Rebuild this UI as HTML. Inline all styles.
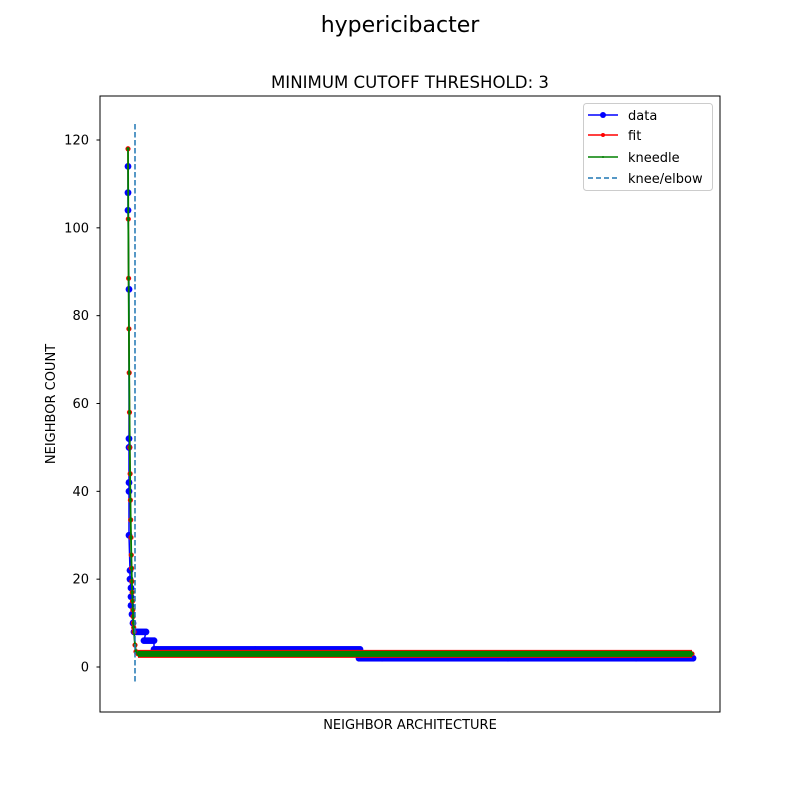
<!DOCTYPE html>
<html><head><meta charset="utf-8"><style>
body{margin:0;background:#fff;font-family:"DejaVu Sans","Liberation Sans",sans-serif}
</style></head><body>
<svg id="chart" width="800" height="800" xmlns="http://www.w3.org/2000/svg" font-family="DejaVu Sans, Liberation Sans, sans-serif">
<rect width="800" height="800" fill="#fff"/>
<text x="400" y="32" text-anchor="middle" font-size="22">hypericibacter</text>
<text x="410" y="88" text-anchor="middle" font-size="16.6">MINIMUM CUTOFF THRESHOLD: 3</text>
<g id="plot"></g>
<rect x="100" y="96" width="620" height="616" fill="none" stroke="#000" stroke-width="1"/>
<g id="yticks"></g>
<text x="410" y="729" text-anchor="middle" font-size="13">NEIGHBOR ARCHITECTURE</text>
<text transform="translate(55,404) rotate(-90)" text-anchor="middle" font-size="13">NEIGHBOR COUNT</text>
<g>
<rect x="583.5" y="103.5" width="129" height="87" rx="3" fill="#fff" stroke="#ccc"/>
<g><line x1="588" y1="115" x2="618" y2="115" stroke="#0000ff" stroke-width="1.5"/><circle cx="603" cy="115" r="3" fill="#0000ff"/><text x="628" y="120" font-size="13">data</text></g>
<g><line x1="588" y1="135" x2="618" y2="135" stroke="#ff0000" stroke-width="1.5"/><circle cx="603" cy="135" r="2" fill="#ff0000"/><text x="628" y="140" font-size="13">fit</text></g>
<g><line x1="588" y1="157" x2="618" y2="157" stroke="#008000" stroke-width="1.5"/><circle cx="603" cy="157" r="1" fill="#008000"/><text x="628" y="162" font-size="13">kneedle</text></g>
<g><line x1="588" y1="178" x2="618" y2="178" stroke="#1f77b4" stroke-width="1.5" stroke-dasharray="5,3"/><text x="628" y="183" font-size="13">knee/elbow</text></g>
</g>
</svg>
<script>
// data
const dataX = [0,0,0,1,1,1,1,1,1,2,2,3,3,3,4,5];
const dataY = [114,108,104,86,52,50,42,40,30,22,20,18,16,14,12,10];
const runStart = [6,16,26,231];
const runEnd = [18,26,232,566];
const runValue = [8,6,4,2];
const fitX = [0,0.3,0.6,0.9,1.2,1.5,1.8,2.1,2.4,2.7,3,3.3,3.6,3.9,4.2,4.5,4.8,5.1,5.4,5.7,6,7,8,10];
const fitY = [118,102,88.5,77,67,58,50,44,38,33.5,29.5,25.5,22.5,19.5,17,15,13,11.5,10,9,8,5,3.5,3];
const fitTailEnd = 564;
const kneeX = 7;
const yTicks = [0,20,40,60,80,100,120];

const NS="http://www.w3.org/2000/svg";
const xs = v => 128 + v;
const ys = v => 667 - v*527/120;
const plot=document.getElementById('plot');
function mk(tag,attrs,parent){const e=document.createElementNS(NS,tag);for(const k in attrs)e.setAttribute(k,attrs[k]);(parent||plot).appendChild(e);return e;}

const dpts=[];
dataX.forEach((x,i)=>dpts.push([x,dataY[i]]));
runStart.forEach((s,i)=>{for(let x=s;x<=runEnd[i];x+=2)dpts.push([x,runValue[i]]);});
const dl=mk('polyline',{points:dpts.map(p=>xs(p[0])+','+ys(p[1])).join(' '),fill:'none',stroke:'#0000ff','stroke-width':1.5});


dpts.forEach(p=>{const c=mk('circle',{cx:xs(p[0]),cy:ys(p[1]),r:3.4,fill:'#0000ff'});

});

const fpts=fitX.map((x,i)=>[x,fitY[i]]);
for(let x=12;x<=fitTailEnd;x+=2)fpts.push([x,fitY[fitY.length-1]]);
const fl=mk('polyline',{points:fpts.map(p=>xs(p[0])+','+ys(p[1])).join(' '),fill:'none',stroke:'#ff0000','stroke-width':1.5});


fpts.forEach(p=>{const c=mk('circle',{cx:xs(p[0]),cy:ys(p[1]),r:2.6,fill:'#ff0000'});

});
const fb=mk('line',{x1:xs(10),y1:ys(3),x2:xs(fitTailEnd),y2:ys(3),stroke:'#ff0000','stroke-width':8});



const kl=mk('polyline',{points:fpts.map(p=>xs(p[0])+','+ys(p[1])).join(' '),fill:'none',stroke:'#008000','stroke-width':1.8});


fpts.forEach(p=>{const c=mk('circle',{cx:xs(p[0]),cy:ys(p[1]),r:1.6,fill:'#008000'});

});
const kb=mk('line',{x1:xs(10),y1:ys(3),x2:xs(fitTailEnd),y2:ys(3),stroke:'#008000','stroke-width':6});



const kn=mk('line',{x1:xs(kneeX),y1:124,x2:xs(kneeX),y2:684,stroke:'#1f77b4','stroke-width':1.5,'stroke-dasharray':'5.5,2.5'});



const yt=document.getElementById('yticks');
yTicks.forEach(v=>{const y=ys(v);
const t=mk('line',{x1:96.5,x2:100,y1:y,y2:y,stroke:'#000'},yt);


const l=mk('text',{x:89,y:y+4.5,'text-anchor':'end','font-size':13},yt);l.textContent=v;

});
</script>
</body></html>
